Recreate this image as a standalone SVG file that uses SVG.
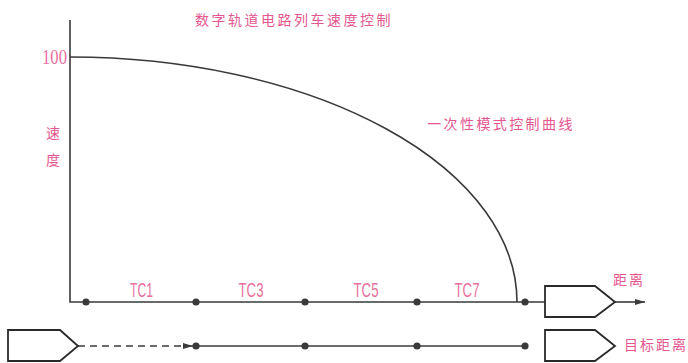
<svg xmlns="http://www.w3.org/2000/svg" width="688" height="363" viewBox="0 0 688 363">
<style>
.ln{stroke:#3a3a3a;stroke-width:1.6;fill:none}
.box{stroke:#2a2a2a;stroke-width:1.8;fill:#fff}
.dot{fill:#3a3a3a}
.cn{font-family:"Noto Sans CJK SC","Noto Sans",sans-serif;fill:#e4568f;font-size:14px}
.tc{font-family:"Liberation Sans",sans-serif;fill:#e8709f;font-size:21px}
</style>
<defs>
<marker id="ah" viewBox="0 0 10 6" refX="10" refY="3" markerWidth="10" markerHeight="6" markerUnits="userSpaceOnUse" orient="auto">
<path d="M0,0 L10,3 L0,6 Z" fill="#3a3a3a"/>
</marker>
</defs>
<rect width="688" height="363" fill="#fff"/>
<g id="title"><text class="cn" x="294" y="25" text-anchor="middle" letter-spacing="2.5">数字轨道电路列车速度控制</text></g>
<g id="axis-labels">
<text class="tc" x="67" y="64" text-anchor="end" textLength="25" lengthAdjust="spacingAndGlyphs" style="font-family:'Liberation Serif',serif;font-size:21px">100</text>
<text class="cn" x="53" y="138" text-anchor="middle">速</text>
<text class="cn" x="53" y="165" text-anchor="middle">度</text>
<text class="cn" x="501" y="129" text-anchor="middle" letter-spacing="2.4">一次性模式控制曲线</text>
<text class="cn" x="629" y="285" text-anchor="middle" letter-spacing="2">距离</text>
<text class="cn" x="656" y="350" text-anchor="middle" letter-spacing="2">目标距离</text>
</g>
<g id="tc-labels">
<text class="tc" x="141.5" y="297" text-anchor="middle" textLength="23" lengthAdjust="spacingAndGlyphs">TC1</text>
<text class="tc" x="251" y="297" text-anchor="middle" textLength="25" lengthAdjust="spacingAndGlyphs">TC3</text>
<text class="tc" x="366" y="297" text-anchor="middle" textLength="25" lengthAdjust="spacingAndGlyphs">TC5</text>
<text class="tc" x="467" y="297" text-anchor="middle" textLength="25" lengthAdjust="spacingAndGlyphs">TC7</text>
</g>
<g id="connectors">
<path class="ln" d="M70,20 V302 H545"/>
<path class="ln" d="M615,302 H645" marker-end="url(#ah)"/>
<path class="ln" d="M70,57 A447,245 0 0 1 517,302" stroke-width="2.4"/>
<path class="ln" d="M78,346 H193" stroke-dasharray="7,5" marker-end="url(#ah)"/>
<path class="ln" d="M196,346 H525"/>
</g>
<g id="dots">
<circle class="dot" cx="86" cy="302" r="3.6"/>
<circle class="dot" cx="196" cy="302" r="3.6"/>
<circle class="dot" cx="305" cy="302" r="3.6"/>
<circle class="dot" cx="417" cy="302" r="3.6"/>
<circle class="dot" cx="525" cy="302" r="3.6"/>
<circle class="dot" cx="196" cy="346" r="3.6"/>
<circle class="dot" cx="305" cy="346" r="3.6"/>
<circle class="dot" cx="417" cy="346" r="3.6"/>
<circle class="dot" cx="525" cy="346" r="3.6"/>
</g>
<g id="node-distance"><path class="box" d="M545,286 H595 L615,302 L595,317 H545 Z"/></g>
<g id="node-target"><path class="box" d="M545,330 H595 L615,346 L595,361 H545 Z"/></g>
<g id="node-train"><path class="box" d="M8,330 H60 L78,346 L60,361 H8 Z"/></g>
</svg>
